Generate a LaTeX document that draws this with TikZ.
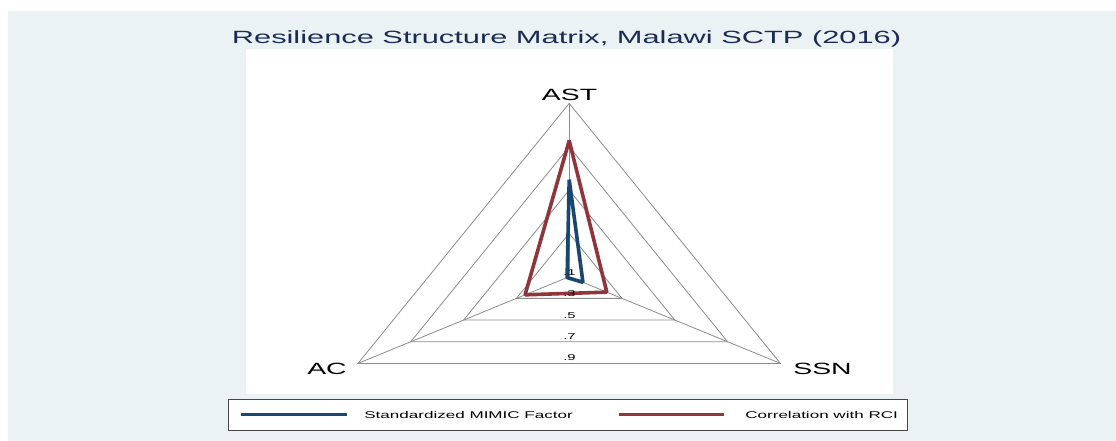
\documentclass[tikz,border=0pt]{standalone}
\usepackage{fontspec}
\setmainfont{Liberation Sans}
\usetikzlibrary{calc}

\definecolor{regionbg}{RGB}{234,242,243}
\definecolor{titlenavy}{RGB}{28,42,86}
\definecolor{mimicblue}{RGB}{26,71,111}
\definecolor{rcired}{RGB}{144,53,59}
\definecolor{gridgray}{RGB}{140,140,140}
\definecolor{boxgray}{RGB}{70,70,70}

\tikzset{
  widetext/.style={inner sep=0pt, xscale=1.74},
  titletext/.style={widetext, text=titlenavy, font=\fontsize{17.7pt}{20pt}\selectfont},
  axislabel/.style={widetext, font=\fontsize{16.3pt}{18pt}\selectfont},
  ringlabel/.style={widetext, font=\fontsize{8.5pt}{10pt}\selectfont},
  keytext/.style={widetext, font=\fontsize{9.8pt}{12pt}\selectfont},
  gridline/.style={gridgray, line width=0.8pt},
  series/.style={line width=3.6pt, line join=bevel},
  keyline/.style={line width=3pt},
}

\begin{document}
\begin{tikzpicture}[x=1pt,y=-1pt]
  % canvas, graph region and plot region
  \useasboundingbox (0,0) rectangle (1116,441);
  \fill[white] (0,0) rectangle (1116,441);
  \fill[regionbg] (8,11) rectangle (1116,441);
  \fill[white] (246,49) rectangle (893,394);

  \node[titletext, anchor=base] (title) at (566.5,43.3) {Resilience Structure Matrix, Malawi SCTP (2016)};

  % spokes: centre is the .1 ring, tips are the .9 ring
  \coordinate (O) at (569.2,276.7);
  \coordinate (ast) at (569.2,103.4);
  \coordinate (ac) at (358,363.4);
  \coordinate (ssn) at (780.4,363.4);
  \foreach \tip in {ast,ac,ssn}
    \draw[gridline] (O) -- (\tip);

  % rings at .3 .5 .7 .9
  \foreach \r in {0.25,0.5,0.75,1}
    \draw[gridline] ($(O)!\r!(ast)$) -- ($(O)!\r!(ac)$) -- ($(O)!\r!(ssn)$) -- cycle;

  % the two series
  \draw[series, mimicblue] ($(O)!0.56!(ast)$) -- ($(O)!0.01!(ac)$) -- ($(O)!0.065!(ssn)$) -- cycle;
  \draw[series, rcired] ($(O)!0.785!(ast)$) -- ($(O)!0.209!(ac)$) -- ($(O)!0.178!(ssn)$) -- cycle;

  % ring values
  \foreach \lab/\y [count=\i] in {.1/275.5, .3/296.5, .5/318, .7/339.5, .9/360.5}
    \node[ringlabel, anchor=base] (ring\i) at (569.5,\y) {\lab};

  % axis names
  \node[axislabel, anchor=base] (astlab) at (569.5,100.5) {AST};
  \node[axislabel, anchor=base] (aclab) at (327,374.3) {AC};
  \node[axislabel, anchor=base] (ssnlab) at (822.5,374.3) {SSN};

  % legend
  \node[draw=boxgray, fill=white, line width=0.8pt, minimum width=679pt, minimum height=31pt, inner sep=0pt] (legend) at (567.5,414.5) {};
  \coordinate (k1a) at (241,414.5);
  \coordinate (k1b) at (347,414.5);
  \coordinate (k2a) at (619,414.5);
  \coordinate (k2b) at (724,414.5);
  \draw[keyline, mimicblue] (k1a) -- (k1b);
  \draw[keyline, rcired] (k2a) -- (k2b);
  \node[keytext, anchor=west] (key1) at (364,414.5) {Standardized MIMIC Factor};
  \node[keytext, anchor=west] (key2) at (745,414.5) {Correlation with RCI};
\end{tikzpicture}
\end{document}
